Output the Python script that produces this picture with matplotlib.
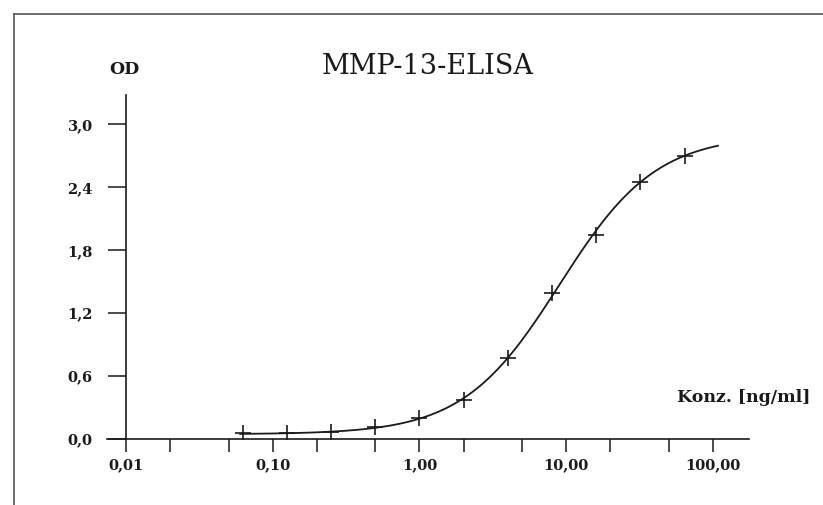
import matplotlib

matplotlib.use("Agg")
import matplotlib.pyplot as plt
from matplotlib.lines import Line2D
import numpy as np

# Standard dilution series (ng/ml) and measured OD
conc = [0.0625, 0.125, 0.25, 0.5, 1.0, 2.0, 4.0, 8.0, 16.0, 32.0, 64.0]
od = [0.054, 0.055, 0.064, 0.117, 0.20, 0.372, 0.776, 1.39, 1.944, 2.455, 2.70]

# 4-parameter logistic fit drawn through the standards
fit_bottom = 0.045
fit_top = 2.90
fit_ec50 = 9.0
fit_slope = 1.32
fit_range = (0.06, 108.0)

x_ticks = [0.01, 0.1, 1.0, 10.0, 100.0]
x_tick_labels = ["0,01", "0,10", "1,00", "10,00", "100,00"]
x_minor = [0.02, 0.05, 0.2, 0.5, 2.0, 5.0, 20.0, 50.0]
y_ticks = [0.0, 0.6, 1.2, 1.8, 2.4, 3.0]
y_tick_labels = ["0,0", "0,6", "1,2", "1,8", "2,4", "3,0"]

W, H = 823, 505
INK = "#1a1a1a"
SERIF = "DejaVu Serif"

fig = plt.figure(figsize=(W / 100, H / 100), dpi=100)

# page frame (top and left edge only)
fig.add_artist(Line2D([14 / W, 1.0], [1 - 14 / H] * 2, transform=fig.transFigure,
                      color="#555555", linewidth=1.2))
fig.add_artist(Line2D([14 / W] * 2, [0.0, 1 - 14 / H], transform=fig.transFigure,
                      color="#555555", linewidth=1.2))

ax = fig.add_axes([107 / W, 1 - 439 / H, (749 - 107) / W, (439 - 95) / H])
ax.set_xscale("log")
ax.set_xlim(10 ** -2.129, 10 ** 2.245)
ax.set_ylim(0, 3.28)

xs = np.logspace(np.log10(fit_range[0]), np.log10(fit_range[1]), 200)
ys = fit_top + (fit_bottom - fit_top) / (1 + (xs / fit_ec50) ** fit_slope)
ax.plot(xs, ys, color=INK, linewidth=1.3)
ax.plot(conc, od, linestyle="none", marker="+", markersize=11,
        markeredgewidth=1.2, color=INK)

for s in ["top", "right"]:
    ax.spines[s].set_visible(False)
ax.spines["left"].set_position(("data", 0.01))
for s in ["left", "bottom"]:
    ax.spines[s].set_color(INK)
    ax.spines[s].set_linewidth(1.2)

ax.set_xticks(x_ticks)
ax.set_xticklabels(x_tick_labels)
ax.set_xticks(x_minor, minor=True)
ax.set_xticklabels([], minor=True)
ax.set_yticks(y_ticks)
ax.set_yticklabels(y_tick_labels)

ax.tick_params(axis="x", which="both", direction="out", length=9.4, width=1.1,
               color=INK, pad=4.5)
ax.tick_params(axis="y", direction="out", length=13, width=1.1, color=INK, pad=11)
for lab in ax.get_xticklabels() + ax.get_yticklabels():
    lab.set_fontfamily(SERIF)
    lab.set_fontweight("bold")
    lab.set_fontsize(10.5)
    lab.set_color(INK)

fig.text(428 / W, 1 - 66 / H, "MMP-13-ELISA", ha="center", va="center",
         family=SERIF, fontsize=19.5, color=INK)
fig.text(124 / W, 1 - 69 / H, "OD", ha="center", va="center",
         family=SERIF, fontweight="bold", fontsize=12.5, color=INK)
fig.text(810 / W, 1 - 398 / H, "Konz. [ng/ml]", ha="right", va="center",
         family=SERIF, fontweight="bold", fontsize=12.5, color=INK)

fig.savefig("out.png", dpi=100)
